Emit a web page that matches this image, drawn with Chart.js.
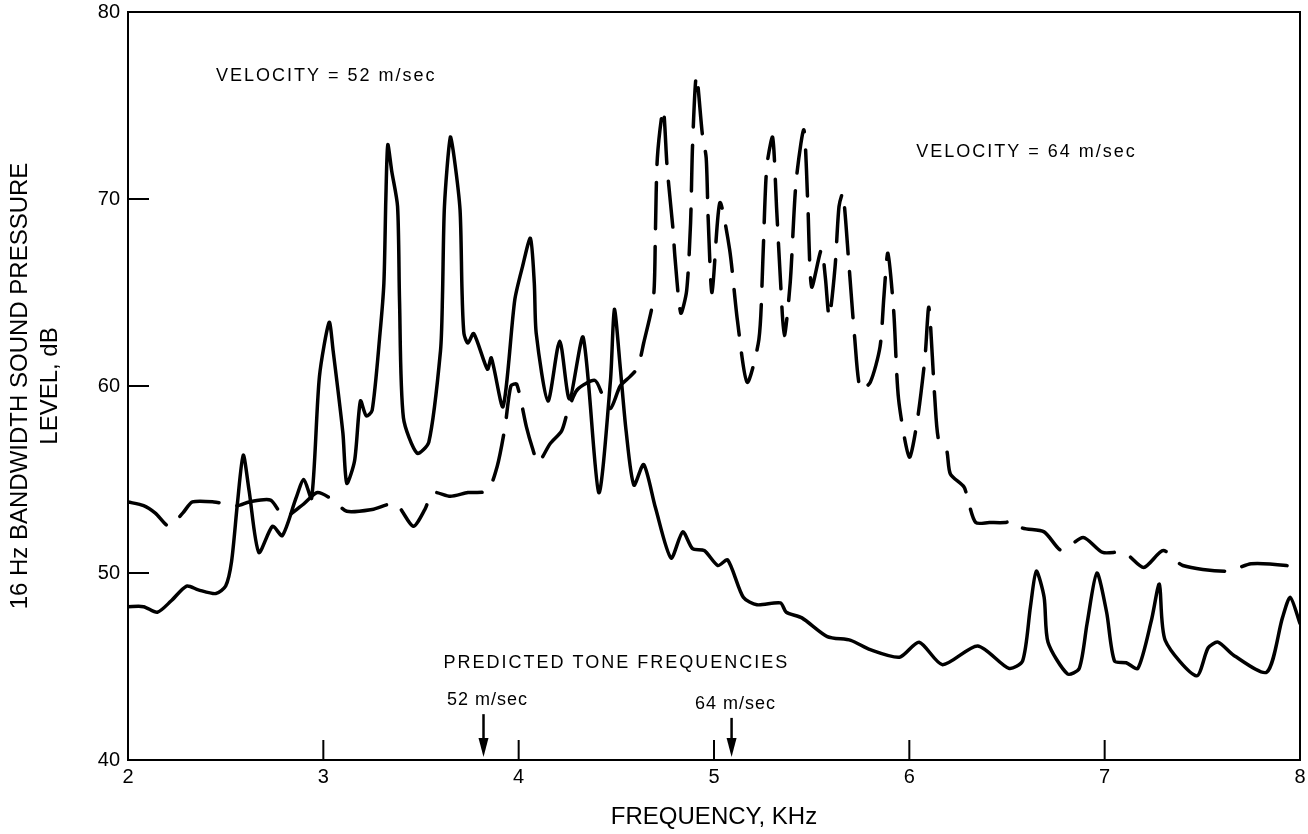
<!DOCTYPE html>
<html>
<head>
<meta charset="utf-8">
<script src="https://cdn.jsdelivr.net/npm/chart.js@4.4.1/dist/chart.umd.min.js"></script>
<style>
html,body{margin:0;padding:0;background:#fff;}
#wrap{width:1308px;height:834px;}
</style>
</head>
<body>
<div id="wrap"><canvas id="c" width="1308" height="834"></canvas></div>
<script>
// ---- data ----
const freq52 = [2.00,2.08,2.15,2.22,2.30,2.36,2.45,2.50,2.53,2.56,2.59,2.62,2.67,2.74,2.79,2.86,2.90,2.94,2.98,3.03,
  3.05,3.10,3.12,3.16,3.19,3.22,3.25,3.29,3.31,3.32,3.33,3.35,3.38,3.39,3.41,3.48,3.54,3.60,3.61,3.62,
  3.65,3.67,3.70,3.71,3.72,3.74,3.77,3.84,3.86,3.92,3.98,4.02,4.06,4.08,4.09,4.15,4.21,4.26,4.33,4.41,
  4.47,4.49,4.52,4.55,4.59,4.64,4.70,4.78,4.84,4.89,4.95,5.02,5.07,5.15,5.22,5.34,5.37,5.45,5.58,5.70,
  5.80,5.95,6.05,6.17,6.35,6.51,6.58,6.62,6.65,6.69,6.71,6.81,6.87,6.91,6.96,7.01,7.05,7.11,7.17,7.24,
  7.28,7.31,7.47,7.53,7.58,7.66,7.83,7.91,7.95,8.00];
const level52 = [48.2,48.2,47.9,48.5,49.3,49.1,48.9,49.3,50.6,53.7,56.3,54.4,51.1,52.5,52.0,54.0,55.0,54.0,60.5,63.4,
  61.9,57.5,54.8,56.0,59.2,58.4,58.7,62.8,65.5,70.0,72.9,71.5,69.6,64.6,58.3,56.4,57.0,61.9,64.8,69.6,
  73.3,72.2,69.4,65.1,62.8,62.3,62.8,60.9,61.5,58.9,64.6,66.4,67.9,65.5,62.8,59.2,62.4,59.3,62.6,54.3,
  60.3,64.1,61.0,57.6,54.7,55.8,53.5,50.8,52.2,51.3,51.2,50.4,50.7,48.7,48.3,48.4,47.9,47.6,46.6,46.4,
  45.9,45.5,46.3,45.1,46.1,44.9,45.3,48.2,50.1,48.7,46.3,44.6,44.9,47.3,50.0,47.9,45.3,45.2,44.9,47.5,
  49.4,46.4,44.5,46.0,46.3,45.6,44.7,47.6,48.7,47.3];

const freq64 = [2.00,2.08,2.14,2.21,2.28,2.33,2.44,2.56,2.62,2.73,2.80,2.90,2.97,3.05,3.12,3.25,3.37,3.46,3.52,3.56,
  3.65,3.74,3.84,3.89,3.93,3.96,3.99,4.04,4.07,4.10,4.16,4.22,4.25,4.30,4.39,4.43,4.47,4.52,4.57,4.61,
  4.64,4.69,4.70,4.71,4.74,4.76,4.79,4.80,4.83,4.86,4.88,4.89,4.91,4.94,4.96,4.97,4.99,5.03,5.08,5.12,
  5.17,5.23,5.25,5.27,5.30,5.32,5.34,5.36,5.39,5.42,5.46,5.48,5.50,5.55,5.57,5.59,5.62,5.64,5.66,5.69,
  5.72,5.75,5.80,5.85,5.87,5.89,5.92,5.945,6.00,6.04,6.08,6.10,6.13,6.15,6.19,6.21,6.28,6.30,6.34,6.41,
  6.49,6.53,6.58,6.69,6.78,6.89,6.99,7.10,7.20,7.30,7.40,7.63,7.75,7.93,8.00];
const level64 = [53.8,53.6,53.2,52.5,53.2,53.8,53.8,53.6,53.8,53.9,53.0,53.7,54.3,53.9,53.3,53.4,53.7,52.5,53.4,54.3,
  54.1,54.3,54.4,55.7,57.8,60.0,60.1,57.8,56.7,55.9,56.9,57.6,58.6,59.8,60.3,59.5,58.8,60.0,60.5,61.0,
  62.3,64.7,68.2,72.2,74.8,71.7,68.4,66.9,63.9,65.1,68.7,72.8,76.6,73.5,72.2,69.0,65.0,69.8,67.3,63.5,
  60.2,62.5,66.7,71.7,73.3,69.6,65.7,62.7,65.5,70.9,73.7,69.8,65.3,67.3,65.8,63.7,66.4,69.6,70.3,66.6,
  62.6,59.8,60.2,62.1,64.8,67.1,64.0,59.3,56.2,58.1,61.5,64.2,59.4,57.1,56.6,55.3,54.6,53.9,52.7,52.7,
  52.7,52.8,52.4,52.2,51.2,51.9,51.1,51.1,50.3,51.2,50.4,50.1,50.5,50.4,50.2];

const xTickValues = [2,3,4,5,6,7,8];
const yTickValues = [40,50,60,70,80];
const predictedToneFreqs = [3.82, 5.09];
const predictedToneLabels = ['52 m/sec','64 m/sec'];
const seriesLabels = ['VELOCITY = 52 m/sec','VELOCITY = 64 m/sec'];

// ---- build ----
const pts = (xs, ys) => xs.map((v, i) => ({x: v, y: ys[i]}));
const FONT = '"Liberation Sans", Arial, Helvetica, sans-serif';

const deco = {
  id: 'deco',
  afterDatasetsDraw(chart) {
    const {ctx, chartArea: a, scales: {x, y}} = chart;
    ctx.save();
    ctx.strokeStyle = '#000';
    ctx.fillStyle = '#000';
    ctx.lineWidth = 2;
    // frame
    ctx.strokeRect(a.left, a.top, a.right - a.left, a.bottom - a.top);
    // inward tick marks
    ctx.beginPath();
    xTickValues.slice(1, -1).forEach(v => {
      const px = x.getPixelForValue(v);
      ctx.moveTo(px, a.bottom); ctx.lineTo(px, a.bottom - 20);
    });
    yTickValues.slice(1, -1).forEach(v => {
      const py = y.getPixelForValue(v);
      ctx.moveTo(a.left, py); ctx.lineTo(a.left + 21, py);
    });
    ctx.stroke();

    // series annotations
    ctx.font = '18px ' + FONT;
    ctx.letterSpacing = '2px';
    ctx.textBaseline = 'middle';
    ctx.textAlign = 'left';
    ctx.fillText(seriesLabels[0], x.getPixelForValue(2.45), y.getPixelForValue(76.6));
    ctx.fillText(seriesLabels[1], x.getPixelForValue(6.035), y.getPixelForValue(72.5));
    ctx.textAlign = 'center';
    ctx.fillText('PREDICTED TONE FREQUENCIES', x.getPixelForValue(4.50), y.getPixelForValue(45.2));
    ctx.letterSpacing = '1px';
    const labelY = [43.2, 43.0];
    predictedToneFreqs.forEach((f, i) => {
      const px = x.getPixelForValue(f);
      ctx.fillText(predictedToneLabels[i], px + 4, y.getPixelForValue(labelY[i]));
      const top = y.getPixelForValue(labelY[i]) + 14;
      const tip = a.bottom - 3;
      ctx.beginPath();
      ctx.moveTo(px, top); ctx.lineTo(px, tip - 12);
      ctx.lineWidth = 2.5;
      ctx.stroke();
      ctx.beginPath();
      ctx.moveTo(px - 5, tip - 19);
      ctx.lineTo(px + 5, tip - 19);
      ctx.lineTo(px, tip);
      ctx.closePath();
      ctx.fill();
    });
    ctx.restore();
  }
};

new Chart(document.getElementById('c'), {
  type: 'line',
  data: {
    datasets: [
      {
        label: seriesLabels[0],
        data: pts(freq52, level52),
        borderColor: '#000',
        borderWidth: 3.5,
        pointRadius: 0,
        tension: 0.25,
        borderJoinStyle: 'round',
        borderCapStyle: 'round',
        fill: false
      },
      {
        label: seriesLabels[1],
        data: pts(freq64, level64),
        borderColor: '#000',
        borderWidth: 3.5,
        borderDash: [46, 18],
        pointRadius: 0,
        tension: 0.25,
        borderJoinStyle: 'round',
        borderCapStyle: 'round',
        fill: false
      }
    ]
  },
  options: {
    responsive: false,
    animation: false,
    events: [],
    layout: {padding: {left: 0, right: 8, top: 12, bottom: 0}},
    plugins: {legend: {display: false}, tooltip: {enabled: false}},
    scales: {
      x: {
        type: 'linear',
        min: 2, max: 8,
        afterFit(s) { s.height = 74; s.paddingLeft = 0; s.paddingRight = 0; },
        grid: {display: false, drawTicks: false},
        border: {display: true, color: '#000', width: 2},
        ticks: {
          stepSize: 1, padding: 5, color: '#000',
          font: {family: FONT, size: 20},
          maxRotation: 0
        },
        afterBuildTicks(s) { s.ticks = xTickValues.map(v => ({value: v})); },
        title: {
          display: true, text: 'FREQUENCY, KHz', color: '#000',
          font: {family: FONT, size: 24, lineHeight: 1.2},
          padding: {top: 0, bottom: 2}
        }
      },
      y: {
        type: 'linear',
        min: 40, max: 80,
        afterFit(s) { s.width = 128; s.paddingTop = 0; s.paddingBottom = 0; },
        grid: {display: false, drawTicks: false},
        border: {display: true, color: '#000', width: 2},
        ticks: {
          stepSize: 10, padding: 8, color: '#000',
          font: {family: FONT, size: 20}
        },
        afterBuildTicks(s) { s.ticks = yTickValues.map(v => ({value: v})); },
        title: {
          display: true,
          text: ['16 Hz BANDWIDTH SOUND PRESSURE', 'LEVEL, dB'],
          color: '#000',
          font: {family: FONT, size: 24, lineHeight: 1.25},
          padding: {top: 5, bottom: 0}
        }
      }
    }
  },
  plugins: [deco]
});
</script>
</body>
</html>
